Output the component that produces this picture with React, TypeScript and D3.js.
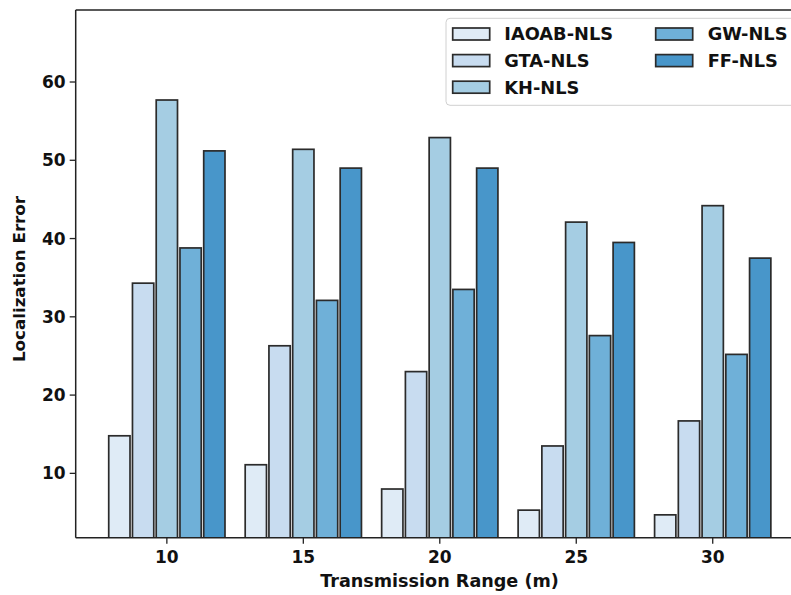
import React from "react";
import * as d3 from "d3";

const ranges = [10, 15, 20, 25, 30];
const seriesNames = ["IAOAB-NLS", "GTA-NLS", "KH-NLS", "GW-NLS", "FF-NLS"];
const iaoab = [14.8, 11.1, 8.0, 5.3, 4.7];
const gta = [34.3, 26.3, 23.0, 13.5, 16.7];
const kh = [57.7, 51.4, 52.9, 42.1, 44.2];
const gw = [38.8, 32.1, 33.5, 27.6, 25.2];
const ff = [51.2, 49.0, 49.0, 39.5, 37.5];
const yTicks = [10, 20, 30, 40, 50, 60];
const colors = ["#dfebf6", "#c8dcf0", "#a5cde3", "#6fb0d8", "#4896ca"];

const seriesValues = [iaoab, gta, kh, gw, ff];

export default function App() {
  const W = 791, H = 595;
  const left = 75.7, top = 10, bottom = 537.7, right = 804.7;
  const x = d3.scaleLinear().domain([6.66, 33.37]).range([left, right]);
  const y = d3.scaleLinear().domain([1.78, 69.2]).range([bottom, top]);
  const step = 0.87, bw = 0.78;
  const font = "'DejaVu Sans', sans-serif";
  const edge = "#2b2b2b";

  return (
    <svg width={W} height={H} style={{ position: "absolute", left: 0, top: 0, background: "#fff" }} fontFamily={font}>
      <defs>
        <clipPath id="plot">
          <rect x={left} y={top} width={right - left} height={bottom - top} />
        </clipPath>
      </defs>
      <rect x={0} y={0} width={W} height={H} fill="#fff" />
      <g clipPath="url(#plot)">
        {seriesValues.map((vals, si) =>
          vals.map((v, ci) => {
            const cx = ranges[ci] + (si - 2) * step;
            const x0 = x(cx - bw / 2);
            const x1 = x(cx + bw / 2);
            return (
              <rect
                key={`${si}-${ci}`}
                x={x0}
                y={y(v)}
                width={x1 - x0}
                height={y(0) - y(v)}
                fill={colors[si]}
                stroke={edge}
                strokeWidth={1.7}
              />
            );
          })
        )}
      </g>
      <line x1={left} x2={left} y1={top} y2={bottom} stroke="#222" strokeWidth={1.5} />
      <line x1={left} x2={right} y1={bottom} y2={bottom} stroke="#222" strokeWidth={1.5} />
      <line x1={left} x2={right} y1={top} y2={top} stroke="#222" strokeWidth={1.5} />
      {yTicks.map((t) => (
        <g key={t} transform={`translate(0,${y(t)})`}>
          <line x1={left - 6} x2={left} stroke="#222" strokeWidth={1.3} />
          <text x={left - 10} dy="0.36em" textAnchor="end" fontSize={17} fontWeight="bold" fill="#111">
            {t}
          </text>
        </g>
      ))}
      {ranges.map((t) => (
        <g key={t} transform={`translate(${x(t)},0)`}>
          <line y1={bottom} y2={bottom + 6} stroke="#222" strokeWidth={1.3} />
          <text y={bottom + 25} textAnchor="middle" fontSize={17} fontWeight="bold" fill="#111">
            {t}
          </text>
        </g>
      ))}
      <text x={439.5} y={587} textAnchor="middle" fontSize={17.6} fontWeight="bold" fill="#111">
        Transmission Range (m)
      </text>
      <text transform={`translate(25,279) rotate(-90)`} textAnchor="middle" fontSize={16.7} fontWeight="bold" fill="#111">
        Localization Error
      </text>
      <rect x={446} y={18.3} width={350} height={87} rx={4} fill="#fff" fillOpacity={0.85} stroke="#d0d0d0" strokeWidth={1} />
      {seriesNames.map((name, i) => {
        const col = i < 3 ? 0 : 1;
        const row = i < 3 ? i : i - 3;
        const hx = col === 0 ? 452.7 : 655.7;
        const tx = col === 0 ? 504.3 : 707.7;
        const cy = 34 + row * 26.6;
        return (
          <g key={name}>
            <rect x={hx} y={cy - 6} width={37} height={12} fill={colors[i]} stroke={edge} strokeWidth={1.7} />
            <text x={tx} y={cy} dy="0.36em" fontSize={17.8} fontWeight="bold" fill="#111">
              {name}
            </text>
          </g>
        );
      })}
    </svg>
  );
}
